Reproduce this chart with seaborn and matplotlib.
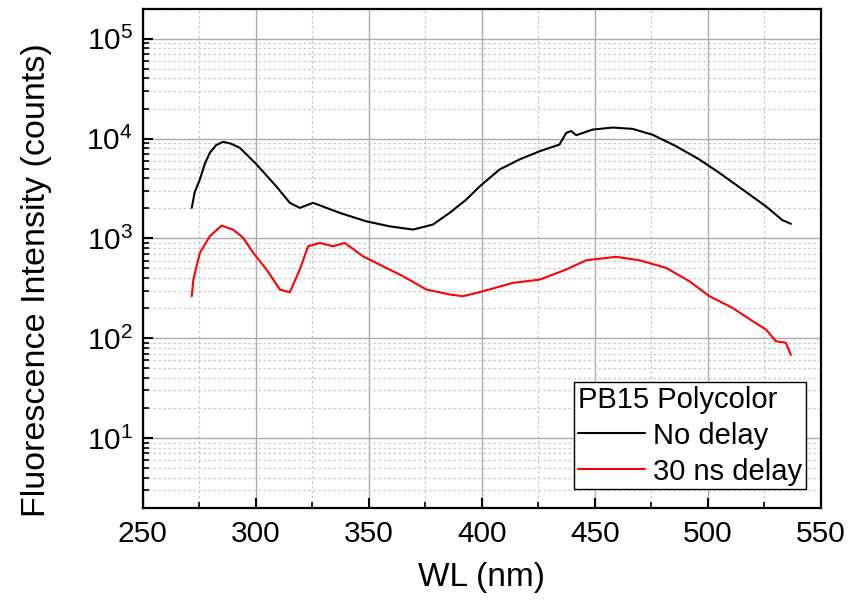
import numpy as np
import pandas as pd
import matplotlib
matplotlib.use("Agg")
import matplotlib.pyplot as plt
import seaborn as sns
from matplotlib.ticker import LogLocator, LogFormatterMathtext, MultipleLocator, NullFormatter

# --- data ---
wl_nodelay = [271.7, 273.0, 275.3, 277.5, 279.7, 282.5, 285.6, 289.0, 293.0, 300.4, 309.2, 315.1, 319.5, 325.4,
              337.2, 349.0, 359.3, 369.6, 378.4, 385.8, 393.2, 399.0, 407.9, 416.7,
              425.6, 434.4, 437.4, 439.6, 441.8, 449.1, 458.0, 466.8, 475.7, 486.0,
              496.3, 505.1, 515.4, 525.8, 533.1, 536.8]
int_nodelay = [2020, 2900, 3900, 5600, 7200, 8600, 9270, 8900, 8070, 5500, 3300, 2270, 2020, 2270,
               1800, 1480, 1320, 1225, 1375, 1800, 2450, 3300, 4900, 6170,
               7460, 8700, 11400, 11900, 10800, 12300, 12900, 12500, 10900, 8380,
               6170, 4540, 3090, 2090, 1520, 1400]

wl_delay = [271.7, 272.4, 275.3, 279.7, 284.9, 290.0, 294.5, 298.9, 304.8, 310.7,
            315.1, 319.5, 323.2, 328.4, 334.2, 339.4, 347.5, 356.3, 365.2, 375.5,
            385.8, 391.7, 400.5, 413.8, 425.6, 437.4, 446.2, 459.5, 469.8, 481.6,
            491.9, 500.8, 511.0, 519.9, 525.8, 530.2, 534.6, 536.8]
int_delay = [263, 386, 716, 1050, 1340, 1225, 1010, 716, 487, 307,
             288, 487, 833, 900, 833, 900, 661, 525, 417, 307,
             274, 263, 295, 358, 386, 487, 603, 653, 603, 506,
             372, 263, 201, 148, 122, 93, 90, 68]

series_names = ["No delay", "30 ns delay"]
legend_title = "PB15 Polycolor"

df = pd.concat([
    pd.DataFrame({"WL": wl_nodelay, "I": int_nodelay, "series": series_names[0]}),
    pd.DataFrame({"WL": wl_delay, "I": int_delay, "series": series_names[1]}),
])

sns.set_theme(style="white")
plt.rcParams["font.family"] = ["Liberation Sans", "DejaVu Sans"]
plt.rcParams["mathtext.default"] = "regular"
plt.rcParams["text.color"] = "black"
plt.rcParams["axes.labelcolor"] = "black"
plt.rcParams["xtick.color"] = "black"
plt.rcParams["ytick.color"] = "black"

fig = plt.figure(figsize=(8.51, 6.01), dpi=100)
ax = fig.add_axes([0.1677, 0.1552, 0.9644 - 0.1677, 0.9855 - 0.1552])

sns.lineplot(data=df, x="WL", y="I", hue="series", palette={series_names[0]: "black", series_names[1]: "red"},
             linewidth=1.5, ax=ax, sort=False, estimator=None)

ax.set_yscale("log")
ax.set_xlim(250, 550)
ax.set_ylim(2, 2e5)

ax.xaxis.set_major_locator(MultipleLocator(50))
ax.xaxis.set_minor_locator(MultipleLocator(25))
ax.yaxis.set_major_locator(LogLocator(base=10, numticks=10))
ax.yaxis.set_minor_locator(LogLocator(base=10, subs=np.arange(2, 10), numticks=100))
ax.yaxis.set_major_formatter(LogFormatterMathtext())
ax.yaxis.set_minor_formatter(NullFormatter())

ax.grid(True, which="major", color="#ababab", linewidth=1.0, linestyle="-")
ax.grid(True, which="minor", color="#c8c8c8", linewidth=0.9, linestyle=(0, (2, 2)))
ax.set_axisbelow(True)

for s in ax.spines.values():
    s.set_visible(True)
    s.set_color("black")
    s.set_linewidth(1.6)

ax.tick_params(which="major", direction="in", length=7, width=1.5, labelsize=21.5,
               colors="black", top=False, right=False, left=True, bottom=True)
ax.tick_params(axis="x", which="major", pad=9)
ax.tick_params(axis="y", which="major", pad=7)
ax.tick_params(which="minor", direction="in", length=4, width=1.2,
               top=False, right=False, left=True, bottom=True)

ax.set_xlabel("WL (nm)", fontsize=24, labelpad=10)
ax.set_ylabel("Fluorescence Intensity (counts)", fontsize=24.5)
ax.yaxis.set_label_coords(-0.134, 0.456)

leg = ax.legend(title=legend_title, loc="lower right", bbox_to_anchor=(0.9783, 0.0375),
                fontsize=21, title_fontsize=21, frameon=True, fancybox=False,
                edgecolor="black", framealpha=1, borderpad=0.12, handlelength=2.3,
                handletextpad=0.3, labelspacing=0.27, borderaxespad=0)
leg._legend_box.align = "left"
leg.get_frame().set_linewidth(1.0)

fig.savefig("out.png", dpi=100)
